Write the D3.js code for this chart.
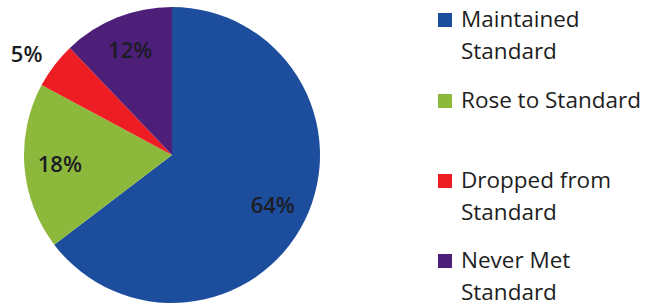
<!DOCTYPE html>
<html>
<head>
<meta charset="utf-8">
<script src="https://cdn.jsdelivr.net/npm/d3@7"></script>
<style>
  html, body { margin: 0; padding: 0; background: #fff; }
  svg { display: block; }
</style>
</head>
<body>
<svg id="chart" width="646" height="308"></svg>
<script>
const categories = ["Maintained Standard", "Rose to Standard", "Dropped from Standard", "Never Met Standard"];
const values = [64, 18, 5, 12];
const pctLabels = ["64%", "18%", "5%", "12%"];
const legendLines = [["Maintained", "Standard"], ["Rose to Standard"], ["Dropped from", "Standard"], ["Never Met", "Standard"]];
const colors = ["#1c4e9d", "#8cb83c", "#ee1d23", "#4d1f78"];

let svg = d3.select("#chart");
let cx = 172, cy = 155, r = 148;

let pie = d3.pie().sort(null).value((d) => d);
let arcs = pie(values);
let arc = d3.arc().innerRadius(0).outerRadius(r);

let g = svg.append("g").attr("transform", `translate(${cx},${cy})`);

g.selectAll("path")
  .data(arcs)
  .enter()
  .append("path")
  .attr("d", arc)
  .attr("fill", (d, i) => colors[i]);

// labels inside at ~0.76r, the small slice goes outside (anchored at its end)
let inner = d3.arc().innerRadius(r * 0.76).outerRadius(r * 0.76);
let outer = d3.arc().innerRadius(r * 1.1).outerRadius(r * 1.1);

g.selectAll("text.pct")
  .data(arcs)
  .enter()
  .append("text")
  .attr("class", "pct")
  .attr("transform", (d, i) => `translate(${(values[i] < 8 ? outer : inner).centroid(d)})`)
  .attr("text-anchor", (d, i) => (values[i] < 8 ? "end" : "middle"))
  .attr("dy", (d, i) => (values[i] < 8 ? "0.25em" : "0.36em"))
  .attr("font-family", "'Open Sans', sans-serif")
  .attr("font-size", 22)
  .attr("font-weight", 600)
  .attr("fill", "#1c1c24")
  .text((d, i) => pctLabels[i]);

// legend
let legendTop = [27, 108, 188, 268];
let lineGap = 32;
let legend = svg.append("g");

categories.forEach((c, i) => {
  let item = legend.append("g");
  item.append("rect")
    .attr("x", 438)
    .attr("y", legendTop[i] - 14)
    .attr("width", 14)
    .attr("height", 14)
    .attr("fill", colors[i]);
  legendLines[i].forEach((t, j) => {
    item.append("text")
      .attr("x", 461)
      .attr("y", legendTop[i] + j * lineGap)
      .attr("font-family", "'Open Sans', sans-serif")
      .attr("font-size", 22.5)
      .attr("fill", "#1e1e1e")
      .text(t);
  });
});
</script>
</body>
</html>
